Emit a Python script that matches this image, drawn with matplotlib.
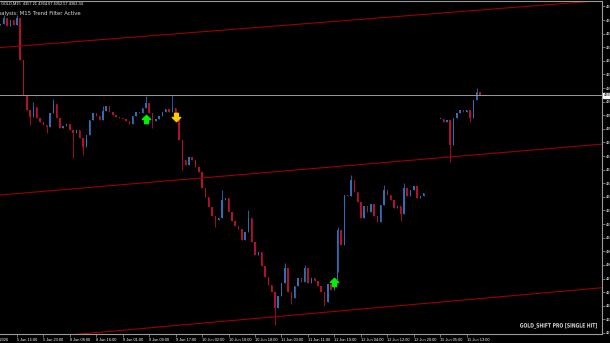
import matplotlib
matplotlib.use('Agg')
import matplotlib.pyplot as plt
import numpy as np
from matplotlib.path import Path
from matplotlib.textpath import TextPath
from matplotlib.patches import PathPatch
from matplotlib.font_manager import FontProperties
import matplotlib.transforms as mtransforms

nan = float('nan')

# hourly candles, closes (bar 0 = 5 Jun 10:00)
first_open = 4388.0
closes = [
	4388.5, 4390.7, 4387.8, 4390.0, 4388.2, 4390.7,
	4375.3, 4362.4, 4356.9, 4354.3, 4358.0, 4353.9, 4352.5, 4351.4, 4350.7,
	4355.8, 4359.1, 4353.9, 4350.3, 4351.0, 4351.8, 4349.6, 4348.5, 4349.6, 4346.6,
	4343.3, 4347.7, 4353.2, 4355.8, 4354.7, 4353.2, 4356.5, 4358.4, 4356.2, 4355.1,
	4354.3, 4353.9, 4353.6, 4352.9, 4351.8, 4354.7, 4356.2, 4355.8, 4357.6, 4359.5,
	4355.8, 4352.9, 4353.6, 4354.7, 4356.2, 4357.3, 4356.2, 4357.6, 4353.9, 4345.9,
	4338.5, 4336.7, 4339.6, 4338.5, 4336.0, 4334.1, 4328.2, 4324.9, 4321.3, 4317.9,
	4316.5, 4317.2, 4323.8, 4324.5, 4319.4, 4316.1, 4314.3, 4313.2, 4309.1, 4312.1,
	4317.2, 4308.4, 4303.6, 4304.7, 4299.6, 4295.5, 4292.6, 4290.0, 4284.1, 4288.5,
	4293.3, 4298.8, 4290.0, 4287.8, 4292.2, 4295.1, 4293.7, 4298.8, 4293.3, 4295.1,
	4294.0, 4292.2, 4290.0, 4286.3, 4292.9, 4290.7, 4294.4, 4312.8, 4307.3, 4325.7,
	4325.3, 4331.2, 4326.8, 4323.1, 4317.2, 4321.6, 4319.4, 4322.3, 4317.9, 4315.7,
	4322.0, 4327.5, 4325.7, 4323.8, 4320.9, 4321.6, 4318.7, 4328.2, 4325.3, 4327.5,
	4329.0, 4324.5, 4325.3, 4326.4,
	nan, nan, nan, nan,
	4353.6, 4352.5, 4353.2, 4344.0, 4353.9, 4355.8, 4356.9, 4356.2, 4356.9, 4354.0,
	4360.6, 4363.5, 4362.3,
]
# notable wicks
spike_highs = {1: 4392.0, 5: 4392.0, 10: 4360.0, 16: 4361.0, 31: 4358.5, 44: 4362.0,
	52: 4362.4, 67: 4327.5, 75: 4320.2, 86: 4300.7, 92: 4299.9,
	102: 4314.0, 106: 4333.0, 116: 4329.4, 122: 4330.1, 136: 4348.5, 144: 4365.0}
spike_lows = {9: 4351.5, 14: 4348.5, 22: 4339.3, 25: 4340.4, 46: 4350.5, 55: 4334.9,
	65: 4314.0, 83: 4277.9, 88: 4285.6, 98: 4284.8,
	102: 4297.4, 121: 4316.0, 136: 4337.8, 142: 4352.5}

last_price = 4362.34

# trend channel anchors (bar, price)
channel_bars = [0, 180]
upper_line = [4379.9, 4397.0]
middle_line = [4325.7, 4344.2]
lower_line = [4272.0, 4291.4]

# signal arrows
signal_bars = [44, 53, 101]
signal_prices = [4353.6, 4354.3, 4293.7]
signal_kinds = ['buy', 'sell', 'buy']

price_ticks = [4395, 4390, 4385, 4380, 4375, 4370, 4365, 4360, 4355, 4350, 4345, 4340,
	4335, 4330, 4325, 4320, 4315, 4310, 4305, 4300, 4295, 4290, 4285, 4280, 4275]
time_labels = ['5 Jun 15:00', '5 Jun 23:00', '8 Jun 08:00', '8 Jun 16:00', '9 Jun 01:00',
	'9 Jun 09:00', '9 Jun 17:00', '10 Jun 02:00', '10 Jun 10:00', '10 Jun 18:00',
	'11 Jun 03:00', '11 Jun 11:00', '11 Jun 19:00', '12 Jun 04:00', '12 Jun 12:00',
	'12 Jun 20:00', '15 Jun 05:00', '15 Jun 13:00']

BULL = '#2f6db5'
BEAR = '#b3102e'
GRID = '#9a9a9a'
SMALL = ['Liberation Sans', 'DejaVu Sans']

W, H = 610, 343
fig = plt.figure(figsize=(W / 100, H / 100), dpi=100, facecolor='black')
ax = fig.add_axes([0, 9 / H, 602 / W, 333 / H], facecolor='black')

closes = np.array(closes)
n = len(closes)
idx = np.arange(n)
opens = np.empty(n)
opens[0] = first_open
opens[1:] = closes[:-1]
opens = np.where(np.isnan(opens), closes, opens)
highs = np.fmax(opens, closes)
lows = np.fmin(opens, closes)
for k, v in spike_highs.items():
	highs[k] = v
for k, v in spike_lows.items():
	lows[k] = v

ok = ~np.isnan(closes)
up = ok & (closes >= opens)
dn = ok & (closes < opens)
for mask, col in ((up, BULL), (dn, BEAR)):
	ax.vlines(idx[mask], lows[mask], highs[mask], color=col, lw=0.6)
	body = np.abs(closes[mask] - opens[mask])
	body = np.maximum(body, 0.4)
	ax.bar(idx[mask], body, bottom=np.fmin(opens, closes)[mask], width=0.45,
		color=col, linewidth=0)

# price line
ax.axhline(last_price, color=GRID, lw=0.7)

# channel
for line in (upper_line, middle_line, lower_line):
	slope = (line[1] - line[0]) / (channel_bars[1] - channel_bars[0])
	xs = np.array([-2, 185])
	ax.plot(xs, line[0] + slope * (xs - channel_bars[0]), color='#9a0000', lw=0.8)

# arrows
up_arrow = Path([(0, 1), (-1, 0), (-0.45, 0), (-0.45, -1), (0.45, -1), (0.45, 0), (1, 0), (0, 1)],
	[Path.MOVETO] + [Path.LINETO] * 6 + [Path.CLOSEPOLY])
down_arrow = Path([(0, -1), (-1, 0), (-0.45, 0), (-0.45, 1), (0.45, 1), (0.45, 0), (1, 0), (0, -1)],
	[Path.MOVETO] + [Path.LINETO] * 6 + [Path.CLOSEPOLY])
for b, p, kind in zip(signal_bars, signal_prices, signal_kinds):
	if kind == 'buy':
		ax.plot(b, p, marker=up_arrow, ms=6, color='#00f000', mec='#00f000')
	else:
		ax.plot(b, p, marker=down_arrow, ms=6, color='#ffcc00', mec='#ffcc00')

ax.set_xlim(-0.1, 181.9)
ax.set_ylim(4274.6, 4397.0)

ax.spines['left'].set_visible(False)
for s in ('top', 'right', 'bottom'):
	ax.spines[s].set_color(GRID)
	ax.spines[s].set_linewidth(0.8)

ax.yaxis.tick_right()
ax.set_yticks(price_ticks)
ax.set_yticklabels([f'{p:.2f}' for p in price_ticks], family=SMALL)
ax.tick_params(axis='y', colors=GRID, length=2, width=0.5, labelsize=3, labelcolor='white', pad=1)

tick_pos = [5 + 8 * k for k in range(len(time_labels))]
ax.set_xticks(tick_pos)
ax.set_xticklabels(time_labels, ha='left', family=SMALL)
ax.tick_params(axis='x', colors=GRID, length=2, width=0.5, labelsize=2.8, labelcolor='white', pad=1)
ax.text(-3.3, -0.012, '5 Jun 2026', transform=mtransforms.blended_transform_factory(ax.transData, ax.transAxes),
	fontsize=2.8, color='white', ha='left', va='top', clip_on=False, family=SMALL)

# last price box
ax.text(1.003, last_price, f'{last_price:.2f}', transform=mtransforms.blended_transform_factory(ax.transAxes, ax.transData),
	fontsize=3, color='black', ha='left', va='center', clip_on=False, family=SMALL,
	bbox=dict(boxstyle='square,pad=0.15', fc='white', ec='white'))

def px(x, y):
	return x / W, 1 - y / H

fig.text(*px(1, 4), 'GOLD,M15  4357.21 4364.07 4352.57 4362.34', fontsize=2.8, color='white',
	va='center', family=SMALL)
fig.text(*px(-6, 14), 'Analysis: M15 Trend Filter Active', fontsize=3.9, color='#d8d8d8', va='center')

# condensed bold watermark at bottom right
tp = TextPath((0, 0), 'GOLD_SHIFT PRO [SINGLE HIT]', size=10,
	prop=FontProperties(family='DejaVu Sans', weight='bold'))
ext = tp.get_extents()
sx = 77 / ext.width
sy = 6 / ext.height
wm = mtransforms.Affine2D().translate(-ext.x0, -ext.y0).scale(sx, sy).translate(520, H - 329)
fig.add_artist(PathPatch(wm.transform_path(tp), transform=mtransforms.IdentityTransform(),
	fc='#d4d4dc', ec='none'))

fig.savefig('out.png', dpi=100, facecolor='black')
